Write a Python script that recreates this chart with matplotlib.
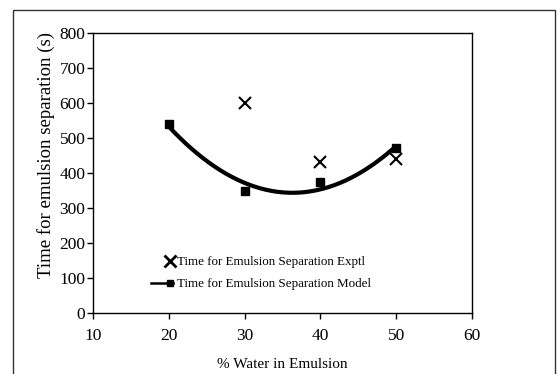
import numpy as np
import matplotlib
matplotlib.use("Agg")
import matplotlib.pyplot as plt
from matplotlib.patches import Rectangle
from matplotlib.legend_handler import HandlerLine2DCompound

water_pct = [20, 30, 40, 50]
exptl_x = [30, 40, 50]
exptl_y = [600, 430, 440]
model_y = [540, 350, 375, 470]

x_ticks = [10, 20, 30, 40, 50, 60]
y_ticks = [0, 100, 200, 300, 400, 500, 600, 700, 800]

plt.rcParams['font.family'] = ['Liberation Serif', 'DejaVu Serif']


class RightMarkerHandler(HandlerLine2DCompound):
    def create_artists(self, legend, orig_handle, xdescent, ydescent,
                       width, height, fontsize, trans):
        artists = super().create_artists(legend, orig_handle, xdescent, ydescent,
                                         width, height, fontsize, trans)
        legline, legmarker = artists
        y = legmarker.get_ydata()
        legmarker.set_data([width - xdescent - 2], [y[0]])
        return artists


fig = plt.figure(figsize=(5.58, 3.74), dpi=100)
ax = fig.add_axes([93/558, 1-313/374, (472-93)/558, (313-33)/374])

# outer frame
fig.patches.append(Rectangle((13/558, -0.05), (555-13)/558, 1.05-10/374,
                             transform=fig.transFigure, fill=False,
                             edgecolor='#333333', lw=1.0))

# quadratic trend for the model
coef = np.polyfit(water_pct, model_y, 2)
xs = np.linspace(min(water_pct), max(water_pct), 200)
ax.plot(xs, np.polyval(coef, xs), color='black', lw=3.0, solid_capstyle='butt', zorder=2)

ax.plot(water_pct, model_y, linestyle='none', marker='s', ms=5.5, color='black', zorder=3)
ax.plot(exptl_x, exptl_y, linestyle='none', marker='x', ms=8, mew=1.5, color='black', zorder=3)

# legend handles
h1 = ax.plot([], [], linestyle='none', marker='x', ms=9, mew=2.0, color='black',
             label='Time for Emulsion Separation Exptl')[0]
h2 = ax.plot([], [], linestyle='-', lw=1.8, marker='s', ms=5, color='black',
             label='Time for Emulsion Separation Model')[0]
leg = ax.legend(handles=[h1, h2], loc='lower left', bbox_to_anchor=(0.136, 0.058),
                frameon=False, fontsize=9.4, handlelength=1.7, handletextpad=0.3,
                labelspacing=0.75, borderpad=0,
                handler_map={h1: RightMarkerHandler(), h2: RightMarkerHandler()})

ax.set_xlim(10, 60)
ax.set_ylim(0, 800)
ax.set_xticks(x_ticks)
ax.set_yticks(y_ticks)
ax.tick_params(direction='out', length=4, width=1, labelsize=12.5, pad=1.5)
ax.tick_params(axis='x', pad=7)
for s in ax.spines.values():
    s.set_linewidth(1.0)

ax.set_xlabel('% Water in Emulsion', fontsize=11, labelpad=10)
ax.set_ylabel('Time for emulsion separation (s)', fontsize=13.5)
ax.yaxis.label.set_va('center')
ax.yaxis.set_label_coords(-0.124, 0.564)

fig.savefig('out.png', dpi=100)
